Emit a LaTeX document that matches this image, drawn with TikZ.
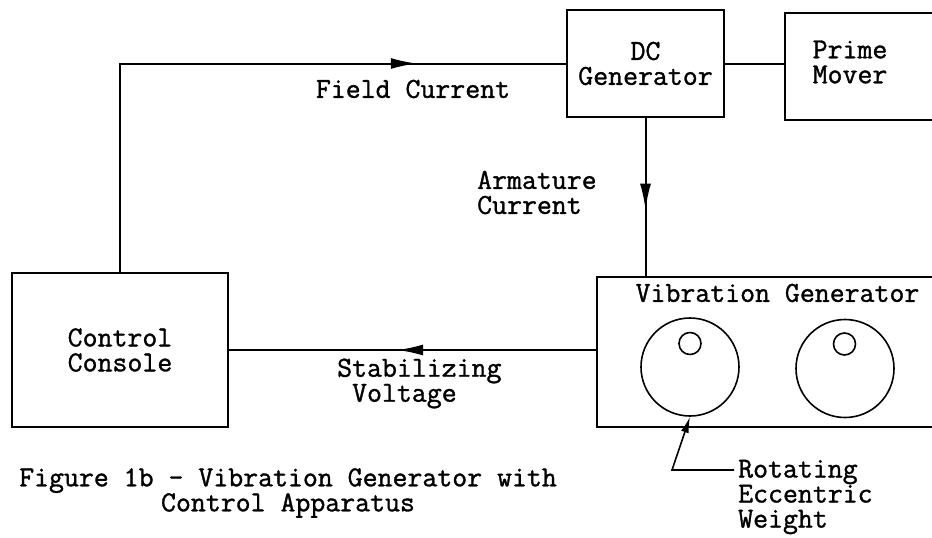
\documentclass[tikz,border=0pt]{standalone}
\usepackage{fontspec}
\setmonofont{Latin Modern Mono}[FakeBold=1.2]
\usetikzlibrary{arrows.meta,decorations.markings}

\begin{document}
\begin{tikzpicture}[x=1pt,y=-1pt,
  font=\ttfamily\fontsize{29}{25}\selectfont,
  unit/.style={draw,line width=2pt,inner sep=0pt,align=center},
  wheel/.style={circle,draw,line width=1.6pt,inner sep=0pt},
  lbl/.style={inner sep=0pt,align=center},
  flow/.style={line width=2pt,postaction={decorate},
    decoration={markings,mark=at position #1 with {\arrow{Latex[length=26pt,width=11pt]}}}}]
\useasboundingbox (0,0) rectangle (932,538);
\clip (0,0) rectangle (932,538);
% blocks
\node[unit,minimum width=157pt,minimum height=107pt] (dc) at (645.5,63.5) {DC\\Generator};
\node[unit,minimum width=190pt,minimum height=107pt] (pm) at (880,66.5) {};
\node[lbl] (pmtxt) at (850,62) {Prime\\Mover};
\node[unit,minimum width=216pt,minimum height=154pt] (cc) at (120,350) {Control\\Console};
\node[unit,minimum width=383pt,minimum height=150pt] (vib) at (788.5,352) {};
\node[lbl] (vibtxt) at (777.5,293) {Vibration Generator};
% eccentric weights
\node[wheel,minimum size=98pt] (w1) at (690,367) {};
\node[wheel,minimum size=22pt] (h1) at (690,343.5) {};
\node[wheel,minimum size=98pt] (w2) at (845,368.5) {};
\node[wheel,minimum size=22pt] (h2) at (844.5,344) {};
% connections
\draw[line width=2pt] (dc.east) -- (dc.east -| pm.west);
\draw[flow=0.772] (cc.north) |- (dc.west);
\draw[flow=0.58] (dc.south) -- (dc.south |- vib.north);
\draw[flow=0.542] (cc.east -| vib.west) -- (cc.east);
\node[lbl] (fclbl) at (413,89) {Field Current};
\node[lbl,align=left,anchor=west] (aclbl) at (477,192.5) {Armature\\Current};
\node[lbl,align=left,anchor=west] (svlbl) at (337,383.5) {Stabilizing\\\phantom{S}Voltage};
% leader to the weight
\coordinate (lead) at (734,470);
\coordinate (bend) at (672,470);
\draw[line width=1.6pt,-{Latex[length=16pt,width=8pt]}] (lead) -- (bend) -- (w1.south);
\node[lbl,align=left,anchor=west] (rwlbl) at (738,497) {Rotating\\Eccentric\\Weight};
\node[lbl] (cap) at (288,493) {Figure 1b - Vibration Generator with\\Control Apparatus};
\end{tikzpicture}
\end{document}
